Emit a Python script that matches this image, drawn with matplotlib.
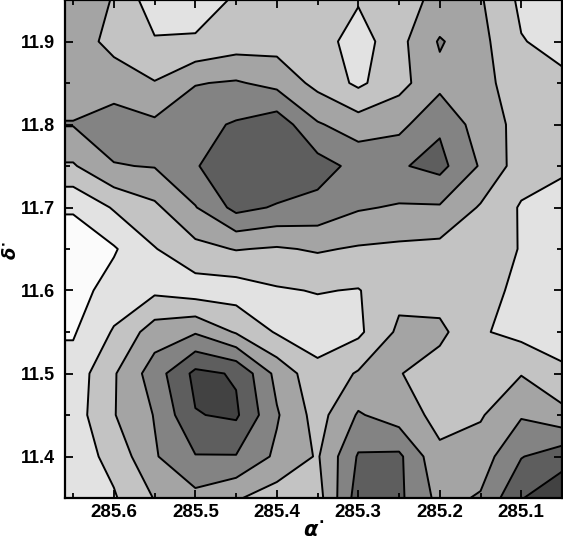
import numpy as np
import matplotlib
matplotlib.use("Agg")
import matplotlib.pyplot as plt
from matplotlib.ticker import MultipleLocator, FormatStrFormatter

plt.rcParams['mathtext.fontset'] = 'custom'
plt.rcParams['mathtext.it'] = 'DejaVu Sans:italic:bold'
plt.rcParams['mathtext.rm'] = 'DejaVu Sans:bold'

# grid coordinates (deg)
ra = [285.65, 285.60, 285.55, 285.50, 285.45, 285.40, 285.35,
      285.30, 285.25, 285.20, 285.15, 285.10, 285.05]
dec_rows = [11.95, 11.90, 11.85, 11.80, 11.75, 11.70, 11.65,
            11.60, 11.55, 11.50, 11.45, 11.40, 11.35]

d_1195 = [3.0, 2.45, 0.9, 1.1, 1.6, 2.0, 2.0, 1.6, 2.2, 2.7, 2.6, 1.3, 0.8]
d_1190 = [3.0, 2.2, 1.6, 1.6, 2.0, 2.1, 2.0, 1.0, 2.2, 3.6, 2.8, 1.55, 1.2]
d_1185 = [3.0, 3.0, 2.55, 3.45, 3.6, 3.2, 2.2, 1.3, 2.2, 3.2, 2.8, 2.0, 1.7]
d_1180 = [3.55, 4.0, 3.7, 4.2, 4.6, 5.1, 3.6, 3.0, 3.2, 4.35, 3.0, 2.2, 2.0]
d_1175 = [2.4, 3.45, 3.55, 4.4, 5.4, 5.4, 4.9, 4.2, 4.4, 4.8, 3.4, 2.0, 1.7]
d_1170 = [0.6, 1.6, 2.3, 3.45, 4.8, 4.4, 4.2, 3.6, 3.4, 3.4, 2.4, 1.4, 1.0]
d_1165 = [0.0, 0.4, 1.45, 2.2, 2.55, 2.4, 2.6, 2.4, 2.3, 2.2, 2.0, 1.45, 1.0]
d_1160 = [0.1, 0.9, 1.3, 1.0, 1.0, 1.4, 1.55, 1.45, 2.2, 2.0, 1.8, 1.3, 1.0]
d_1155 = [0.4, 1.6, 3.0, 3.4, 2.4, 1.4, 1.0, 1.3, 2.7, 2.75, 1.6, 1.2, 1.0]
d_1150 = [0.9, 2.4, 4.0, 5.75, 5.4, 3.2, 1.8, 2.6, 2.55, 2.0, 2.2, 2.45, 1.7]
d_1145 = [1.0, 2.45, 3.55, 5.45, 5.65, 3.6, 2.1, 3.6, 3.0, 2.2, 2.4, 3.4, 2.8]
d_1140 = [1.0, 1.8, 3.4, 4.45, 4.45, 3.3, 2.4, 4.6, 4.7, 2.7, 3.0, 4.45, 5.1]
d_1135 = [1.0, 1.4, 2.55, 3.2, 2.6, 2.0, 2.1, 5.0, 4.7, 3.2, 3.6, 5.45, 6.2]

levels = [-0.5, 0.5, 1.5, 2.5, 3.5, 4.5, 5.5, 6.5]
fill_colors = ['#fbfbfb', '#e2e2e2', '#c3c3c3', '#a4a4a4',
               '#838383', '#5e5e5e', '#424242']

rows = [d_1195, d_1190, d_1185, d_1180, d_1175, d_1170, d_1165,
        d_1160, d_1155, d_1150, d_1145, d_1140, d_1135]
Z = np.array(rows)[::-1]          # ascending declination
Y = np.array(dec_rows)[::-1]
X = np.array(ra)
# extend first column to the left axis edge
X = np.r_[285.66, X]
Z = np.hstack([Z[:, :1], Z])

fig = plt.figure(figsize=(5.63, 5.42), dpi=100)
ax = fig.add_axes([65/563, 44/542, 497/563, 498/542])

ax.contourf(X, Y, Z, levels=levels, colors=fill_colors)
ax.contour(X, Y, Z, levels=levels[1:-1], colors='black', linewidths=1.4)

ax.set_xlim(285.66, 285.05)
ax.set_ylim(11.35, 11.95)

ax.xaxis.set_major_locator(MultipleLocator(0.1))
ax.xaxis.set_minor_locator(MultipleLocator(0.05))
ax.yaxis.set_major_locator(MultipleLocator(0.1))
ax.yaxis.set_minor_locator(MultipleLocator(0.05))
ax.xaxis.set_major_formatter(FormatStrFormatter('%.1f'))
ax.yaxis.set_major_formatter(FormatStrFormatter('%.1f'))

ax.tick_params(which='both', direction='in', top=True, right=True, width=1.3)
ax.tick_params(which='major', length=6)
ax.tick_params(which='minor', length=3.5)
ax.tick_params(axis='x', pad=4)
ax.tick_params(axis='y', pad=7)
for lab in ax.get_xticklabels():
    lab.set_fontfamily('Liberation Sans')
    lab.set_fontweight('bold')
    lab.set_fontsize(13.5)
for lab in ax.get_yticklabels():
    lab.set_fontfamily('Liberation Sans')
    lab.set_fontweight('bold')
    lab.set_fontsize(13)
for s in ax.spines.values():
    s.set_linewidth(1.6)

ax.set_xlabel(r'$\alpha^{\bullet}$', fontsize=15, labelpad=0)
fig.text(11/563, 1 - 250/542, r'$\delta^{\bullet}$', fontsize=13,
         rotation=90, ha='center', va='center')

fig.savefig('out.png', dpi=100)
